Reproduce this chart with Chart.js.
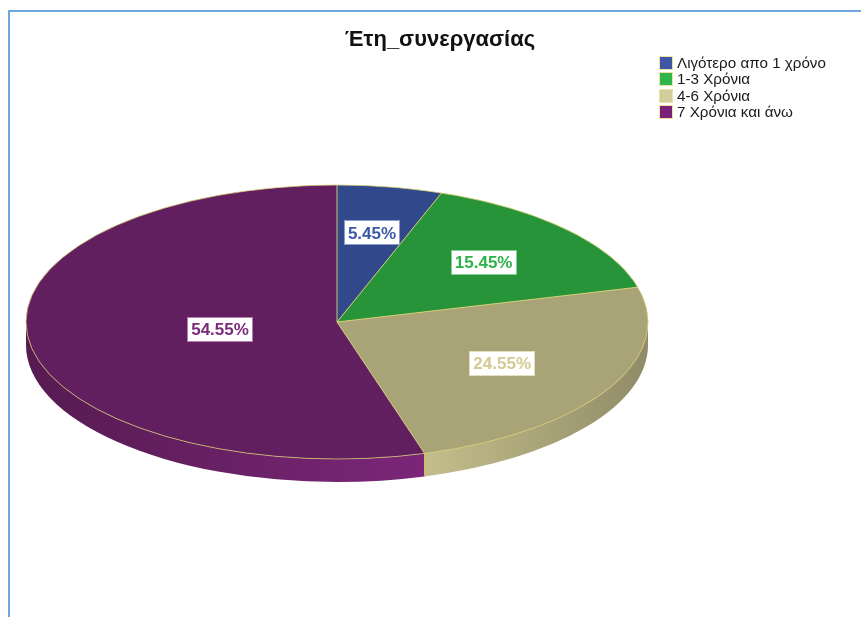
<!DOCTYPE html>
<html>
<head>
<meta charset="utf-8">
<script src="https://cdn.jsdelivr.net/npm/chart.js@4/dist/chart.umd.min.js"></script>
<style>
  html, body { margin: 0; padding: 0; background: #fff; overflow: hidden; }
  #wrap { position: relative; width: 861px; height: 617px; }
  #wrap canvas { position: absolute; left: 0; top: 0; }
  #frame { position: absolute; left: 8px; top: 10px; right: 0; bottom: -4px;
           border-left: 2px solid #6ea6de; border-top: 2px solid #6ea6de; pointer-events: none; }
</style>
</head>
<body>
<div id="wrap">
  <canvas id="chart" width="861" height="617"></canvas>
  <div id="frame"></div>
</div>
<script>
// Categories and counts (years of cooperation)
const categories = ['Λιγότερο απο 1 χρόνο', '1-3 Χρόνια', '4-6 Χρόνια', '7 Χρόνια και άνω'];
const counts = [6, 17, 27, 60];
const chartTitle = 'Έτη_συνεργασίας';

// Styling
const topColors    = ['#31498a', '#27943a', '#a9a478', '#621f5f'];
const sideColors   = [['#2a3f78', '#3a55a0'], ['#1f7a30', '#2da845'], ['#c4be8b', '#908b68'], ['#561b51', '#7b2678']];
const legendColors = ['#3f56a6', '#2fb64a', '#d3cd9c', '#7b217a'];
const labelColors  = ['#3d58a8', '#2cb24a', '#d2ca92', '#7c2a7a'];
const labelRadius  = [0.66, 0.64, 0.61, 0.38];
const edgeColor    = 'rgba(214, 204, 112, 0.95)';

const total = counts.reduce((a, b) => a + b, 0);
const percentText = counts.map(v => (v / total * 100).toFixed(2) + '%');

// Tilted disc geometry on the page
const GEO = { cx: 337, cy: 322, rx: 311, ry: 137, depth: 23 };

function arcAngles(arc) {
  return arc.getProps(['startAngle', 'endAngle'], true);
}

const tiltedPie = {
  id: 'tiltedPie',
  beforeDatasetsDraw(chart) {
    const ctx = chart.ctx;
    const arcs = chart.getDatasetMeta(0).data;
    const { cx, cy, rx, ry, depth } = GEO;

    // Side wall of the disc (only the front half is visible)
    arcs.forEach((arc, i) => {
      const { startAngle, endAngle } = arcAngles(arc);
      for (const base of [-2 * Math.PI, 0, 2 * Math.PI]) {
        const a0 = Math.max(startAngle, base);
        const a1 = Math.min(endAngle, base + Math.PI);
        if (a1 <= a0) continue;
        const xl = cx + rx * Math.cos(a1);
        const xr = cx + rx * Math.cos(a0);
        const g = ctx.createLinearGradient(xl, 0, xr, 0);
        g.addColorStop(0, sideColors[i][0]);
        g.addColorStop(1, sideColors[i][1]);
        ctx.save();
        ctx.beginPath();
        ctx.ellipse(cx, cy, rx, ry, 0, a0, a1);
        ctx.ellipse(cx, cy + depth, rx, ry, 0, a1, a0, true);
        ctx.closePath();
        ctx.fillStyle = g;
        ctx.fill();
        // seams between neighbouring wall segments
        ctx.strokeStyle = edgeColor;
        ctx.lineWidth = 1;
        [a0, a1].forEach(a => {
          if (Math.abs(a - base) < 1e-6 || Math.abs(a - base - Math.PI) < 1e-6) return;
          const x = cx + rx * Math.cos(a), y = cy + ry * Math.sin(a);
          ctx.beginPath();
          ctx.moveTo(x, y);
          ctx.lineTo(x, y + depth);
          ctx.stroke();
        });
        ctx.restore();
      }
    });

    // Squash the library's circular pie into the tilted ellipse
    const a = arcs[0];
    ctx.save();
    ctx.translate(cx, cy);
    ctx.scale(rx / a.outerRadius, ry / a.outerRadius);
    ctx.translate(-a.x, -a.y);
  },
  afterDatasetsDraw(chart) {
    const ctx = chart.ctx;
    ctx.restore();
    const arcs = chart.getDatasetMeta(0).data;
    const { cx, cy, rx, ry } = GEO;

    // Slice edges and rim
    ctx.save();
    ctx.strokeStyle = edgeColor;
    ctx.lineWidth = 1;
    arcs.forEach(arc => {
      const { startAngle } = arcAngles(arc);
      ctx.beginPath();
      ctx.moveTo(cx, cy);
      ctx.lineTo(cx + rx * Math.cos(startAngle), cy + ry * Math.sin(startAngle));
      ctx.stroke();
    });
    ctx.globalAlpha = 0.8;
    ctx.beginPath();
    ctx.ellipse(cx, cy, rx, ry, 0, 0, 2 * Math.PI);
    ctx.stroke();
    ctx.restore();

    // Percentage labels in white boxes
    ctx.save();
    ctx.font = 'bold 17px "Liberation Sans Narrow", "Arial Narrow", "Liberation Sans", sans-serif';
    ctx.textAlign = 'center';
    ctx.textBaseline = 'middle';
    arcs.forEach((arc, i) => {
      const { startAngle, endAngle } = arcAngles(arc);
      const mid = (startAngle + endAngle) / 2;
      const x = cx + rx * labelRadius[i] * Math.cos(mid);
      const y = cy + ry * labelRadius[i] * Math.sin(mid);
      const w = ctx.measureText(percentText[i]).width + 8;
      const h = 25;
      ctx.fillStyle = '#ffffff';
      ctx.fillRect(Math.round(x - w / 2), Math.round(y - h / 2), Math.round(w), h);
      ctx.strokeStyle = labelColors[i];
      ctx.globalAlpha = 0.6;
      ctx.lineWidth = 1;
      ctx.strokeRect(Math.round(x - w / 2) + 0.5, Math.round(y - h / 2) + 0.5, Math.round(w) - 1, h - 1);
      ctx.globalAlpha = 1;
      ctx.fillStyle = labelColors[i];
      ctx.fillText(percentText[i], x, y + 1);
    });
    ctx.restore();
  },
  afterDraw(chart) {
    const ctx = chart.ctx;
    ctx.save();
    // Title
    ctx.fillStyle = '#111';
    ctx.font = 'bold 22px "Liberation Sans", Arial, sans-serif';
    ctx.textAlign = 'center';
    ctx.textBaseline = 'alphabetic';
    ctx.fillText(chartTitle, 440, 46);

    // Legend
    ctx.font = '15.2px "Liberation Sans", Arial, sans-serif';
    ctx.textAlign = 'left';
    ctx.textBaseline = 'middle';
    categories.forEach((name, i) => {
      const y = 63 + i * 16.3;
      ctx.fillStyle = legendColors[i];
      ctx.fillRect(660, Math.round(y - 6), 12, 12);
      ctx.strokeStyle = '#ece3a2';
      ctx.lineWidth = 1;
      ctx.strokeRect(659.5, Math.round(y - 6) - 0.5, 13, 13);
      ctx.fillStyle = '#1a1a1a';
      ctx.fillText(name, 677, y + 1);
    });
    ctx.restore();
  }
};

new Chart(document.getElementById('chart'), {
  type: 'pie',
  data: {
    labels: categories,
    datasets: [{
      data: counts,
      backgroundColor: topColors,
      borderWidth: 0,
      clip: false
    }]
  },
  options: {
    responsive: false,
    animation: false,
    rotation: 0,
    layout: { padding: 0 },
    plugins: {
      legend: { display: false },
      tooltip: { enabled: false },
      title: { display: false }
    },
    events: []
  },
  plugins: [tiltedPie]
});
</script>
</body>
</html>
